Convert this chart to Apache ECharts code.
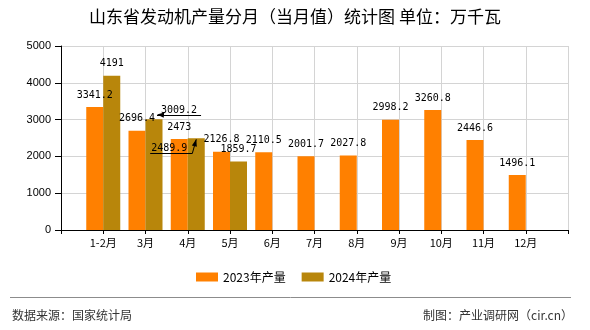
<!DOCTYPE html>
<html><head><meta charset="utf-8">
<script src="https://cdn.jsdelivr.net/npm/echarts@6/dist/echarts.min.js"></script>
<style>html,body{margin:0;padding:0;background:#fff}#c{width:590px;height:330px}</style>
</head><body><div id="c"></div>
<script>
// ---- data ----
const months = ['1-2月','3月','4月','5月','6月','7月','8月','9月','10月','11月','12月'];
const prod2023 = [3341.2,2696.4,2473,2126.8,2110.5,2001.7,2027.8,2998.2,3260.8,2446.6,1496.1];
const prod2024 = [4191,3009.2,2489.9,1859.7];
const seriesNames = ['2023年产量','2024年产量'];
const yTicks = [0,1000,2000,3000,4000,5000];
const titleText = '山东省发动机产量分月（当月值）统计图 单位：万千瓦';
const sourceText = '数据来源：国家统计局';
const creditText = '制图：产业调研网（cir.cn）';

// ---- build ----
const cats = [''].concat(months, ['']);
const pad = arr => [null].concat(months.map((m, i) => i < arr.length ? arr[i] : null), [null]);
const colors = ['#FF8000', '#B8860B'];
const gridColor = '#d4d4d4';
const labelFont = {fontFamily: 'DejaVu Sans Mono', fontSize: 10, color: '#000'};
// label displacement (style) for the two crowded 2024 labels, keyed by padded index
const shift = {2: [25, 3], 3: [-27, 22]};
const moved = {};

const chart = echarts.init(document.getElementById('c'), null, {renderer: 'canvas'});

const footer = [
  {id: 'fl', type: 'line', shape: {x1: 10, y1: 297.5, x2: 571, y2: 297.5}, style: {stroke: '#8c8c8c', lineWidth: 1}, silent: true},
  {id: 'ft1', type: 'text', left: 12, top: 309, style: {text: sourceText, font: '12px "Noto Sans CJK SC"', fill: '#333'}},
  {id: 'ft2', type: 'text', right: 17, top: 309, style: {text: creditText, font: '12px "Noto Sans CJK SC"', fill: '#333'}}
];

const option = {
  animation: false,
  backgroundColor: '#fff',
  title: {
    text: titleText, left: 'center', top: 8, padding: 0,
    textStyle: {fontFamily: 'Noto Sans CJK SC', fontSize: 17, fontWeight: 'normal', color: '#000'}
  },
  legend: {
    data: seriesNames, left: 196, top: 271, itemWidth: 22, itemHeight: 9, itemGap: 16, padding: 0,
    icon: 'rect',
    textStyle: {fontFamily: 'Noto Sans CJK SC', fontSize: 12, color: '#000'}
  },
  grid: {left: 61, right: 22, top: 46, bottom: 100, containLabel: false},
  xAxis: {
    type: 'category', data: cats, boundaryGap: false,
    axisLine: {lineStyle: {color: '#000'}},
    axisTick: {interval: 0, length: 4, lineStyle: {color: '#000'}},
    axisLabel: {interval: 0, margin: 7, fontFamily: 'Noto Sans CJK SC', fontSize: 11, color: '#000'},
    splitLine: {show: true, interval: 0, lineStyle: {color: gridColor}}
  },
  yAxis: {
    type: 'value', min: yTicks[0], max: yTicks[yTicks.length - 1], interval: yTicks[1] - yTicks[0],
    axisLine: {show: true, lineStyle: {color: '#000'}},
    axisTick: {show: true, length: 6, lineStyle: {color: '#000'}},
    axisLabel: {margin: 10, fontFamily: 'Liberation Sans', fontSize: 11, color: '#000', formatter: v => String(v)},
    splitLine: {lineStyle: {color: gridColor}}
  },
  series: [
    {
      name: seriesNames[0], type: 'bar', data: pad(prod2023), barWidth: 17, barGap: '0%',
      itemStyle: {color: colors[0]},
      label: Object.assign({show: true, position: 'top', distance: 7}, labelFont)
    },
    {
      name: seriesNames[1], type: 'bar', data: pad(prod2024), barWidth: 17, barGap: '0%',
      itemStyle: {color: colors[1]},
      label: Object.assign({show: true, position: 'top', distance: 7}, labelFont),
      labelLayout: function (p) {
        const s = shift[p.dataIndex];
        if (!s) return {};
        moved[p.dataIndex] = {rect: p.rect, label: p.labelRect, dx: s[0], dy: s[1]};
        return {dx: s[0], dy: s[1]};
      }
    }
  ],
  graphic: {elements: footer}
};
chart.setOption(option);

function arrow(id, tip, from) {
  const dx = tip[0] - from[0], dy = tip[1] - from[1];
  const L = Math.hypot(dx, dy) || 1;
  const ux = dx / L, uy = dy / L, len = 7, w = 2.6;
  const bx = tip[0] - ux * len, by = tip[1] - uy * len;
  return {id: id, type: 'polygon', z: 100,
    shape: {points: [tip, [bx - uy * w, by + ux * w], [bx + uy * w, by - ux * w]]},
    style: {fill: '#000'}};
}
function line(id, pts) {
  return {id: id, type: 'polyline', z: 100, shape: {points: pts}, style: {stroke: '#000', lineWidth: 1, fill: null}};
}
const lead = [];
const a = moved[2];
if (a) {
  const cx = a.rect.x + a.rect.width / 2;
  const ly = Math.round(a.label.y + a.label.height + a.dy) + 0.5;
  const x0 = cx + 3, x1 = a.label.x + a.dx + a.label.width + 4;
  lead.push(line('la', [[x0, ly], [x1, ly]]));
  lead.push(arrow('aa', [x0, ly - 1], [x0 + 10, ly]));
}
const b = moved[3];
if (b) {
  const cx = b.rect.x + b.rect.width / 2, top = b.rect.y;
  const ly = Math.round(b.label.y + b.label.height + b.dy) + 0.5;
  const xl = b.label.x + b.dx - 1, xr = b.label.x + b.dx + b.label.width + 5;
  lead.push(line('lb', [[xl, ly], [xr, ly], [cx, top + 1]]));
  lead.push(arrow('ab', [cx, top + 1], [xr, ly]));
}
chart.setOption({graphic: {elements: footer.concat(lead)}});
</script>
</body></html>
